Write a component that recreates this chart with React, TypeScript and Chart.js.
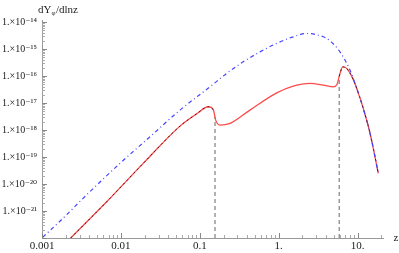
import React, { useEffect, useRef } from "react";
import { Chart, registerables } from "chart.js";

Chart.register(...registerables);

// Blue dash-dot curve (envelope)
const blueZ = [0.00102, 0.00166, 0.00405, 0.00975, 0.0234, 0.0561, 0.1345, 0.219, 0.356, 0.579, 0.944, 1.53, 2.26, 3.68, 4.47, 5.98, 8.01, 9.75, 11.8, 14.4, 18.3];
const blueY = [1.07e-22, 4.0e-22, 5.2e-21, 5.85e-20, 5.65e-19, 5.5e-18, 4.0e-17, 1.26e-16, 3.4e-16, 7.9e-16, 1.63e-15, 2.86e-15, 3.8e-15, 2.86e-15, 2.03e-15, 7.9e-16, 1.67e-16, 3.5e-17, 6.4e-18, 7.5e-19, 2.5e-20];

// Red solid curve
const redZ = [0.00231, 0.0066, 0.0192, 0.0561, 0.0914, 0.128, 0.148, 0.159, 0.18, 0.242, 0.432, 0.944, 1.53, 2.49, 3.68, 4.92, 5.5, 5.86, 6.47, 7.28, 8.83, 9.75, 11.8, 14.4, 18.3];
const redY = [1e-22, 2.2e-21, 5.85e-20, 1.4e-18, 4.0e-18, 7.3e-18, 5.85e-18, 2.34e-18, 1.53e-18, 1.77e-18, 5.5e-18, 2.4e-17, 4.27e-17, 5.37e-17, 4.65e-17, 4.0e-17, 5.0e-17, 1.0e-16, 2.2e-16, 1.93e-16, 7.4e-17, 3.5e-17, 6.4e-18, 7.5e-19, 2.5e-20];

// Black dashed overlay segments (index ranges into red curve)
const blackSegA = [0, 7];
const blackSegB = [17, 25];

// Vertical dashed marker lines
const markerZ = [0.156, 5.86];
const markerTop = [3.1e-18, 1.0e-16];

// Axes
const xMin = 0.001;
const xMax = 21;
const yMin = 1e-22;
const yMax = 1.2e-14;
const xTickVals = [0.001, 0.01, 0.1, 1, 10];
const xTickLabels = ["0.001", "0.01", "0.1", "1.", "10."];
const yTickVals = [1e-21, 1e-20, 1e-19, 1e-18, 1e-17, 1e-16, 1e-15, 1e-14];
const yTickLabels = ["1.×10⁻²¹", "1.×10⁻²⁰", "1.×10⁻¹⁹", "1.×10⁻¹⁸", "1.×10⁻¹⁷", "1.×10⁻¹⁶", "1.×10⁻¹⁵", "1.×10⁻¹⁴"];

const FONT = '"Liberation Serif", "DejaVu Serif", serif';

const pts = (zs: number[], ys: number[]) => zs.map((z, i) => ({ x: z, y: ys[i] }));

const overlayPlugin = {
  id: "overlay",
  afterDraw(chart: any) {
    const { ctx, chartArea, scales } = chart;
    const xs = scales.x;
    const ys = scales.y;
    ctx.save();
    ctx.lineWidth = 1;
    // x ticks (inward, upward)
    for (let e = -3; e <= 1; e++) {
      for (let k = 1; k <= 9; k++) {
        const v = k * Math.pow(10, e);
        if (v < xMin * 0.999 || v > xMax) continue;
        const px = Math.round(xs.getPixelForValue(v)) + 0.5;
        const len = k === 1 ? 5 : 3;
        ctx.strokeStyle = k === 1 ? "#888" : "#aaa";
        ctx.beginPath();
        ctx.moveTo(px, chartArea.bottom);
        ctx.lineTo(px, chartArea.bottom - len);
        ctx.stroke();
      }
    }
    // y ticks (inward, rightward)
    for (let e = -22; e <= -14; e++) {
      for (let k = 1; k <= 9; k++) {
        const v = k * Math.pow(10, e);
        if (v < yMin * 0.999 || v > yMax) continue;
        const py = Math.round(ys.getPixelForValue(v)) + 0.5;
        const len = k === 1 ? 5 : 3;
        ctx.strokeStyle = k === 1 ? "#888" : "#aaa";
        ctx.beginPath();
        ctx.moveTo(chartArea.left, py);
        ctx.lineTo(chartArea.left + len, py);
        ctx.stroke();
      }
    }
    // axis labels
    ctx.fillStyle = "#222";
    ctx.font = `11px ${FONT}`;
    ctx.textAlign = "center";
    ctx.textBaseline = "middle";
    ctx.fillText("z", 396, chartArea.bottom);
    ctx.textAlign = "left";
    ctx.textBaseline = "alphabetic";
    let x = 38;
    const base = 13;
    ctx.fillText("dY", x, base);
    x += ctx.measureText("dY").width;
    ctx.font = `7px ${FONT}`;
    ctx.fillText("φ", x, base + 2);
    x += ctx.measureText("φ").width + 0.5;
    ctx.font = `11px ${FONT}`;
    ctx.fillText("/dlnz", x, base);
    ctx.restore();
  },
};

export default function App() {
  const ref = useRef<HTMLCanvasElement | null>(null);
  useEffect(() => {
    document.body.style.margin = "0";
    if (!ref.current) return;
    const black = "rgba(40,0,0,0.8)";
    const datasets: any[] = [
      {
        data: pts(blueZ, blueY),
        borderColor: "rgb(70,70,255)",
        borderWidth: 1.2,
        borderDash: [4, 3, 1, 3],
        cubicInterpolationMode: "monotone",
        order: 0,
      },
      {
        data: pts(redZ.slice(blackSegA[0], blackSegA[1]), redY.slice(blackSegA[0], blackSegA[1])),
        borderColor: black,
        borderWidth: 1,
        borderDash: [2, 3],
        cubicInterpolationMode: "monotone",
        order: 1,
      },
      {
        data: pts(redZ.slice(blackSegB[0], blackSegB[1]), redY.slice(blackSegB[0], blackSegB[1])),
        borderColor: black,
        borderWidth: 1,
        borderDash: [2, 3],
        cubicInterpolationMode: "monotone",
        order: 1,
      },
      {
        data: pts(redZ, redY),
        borderColor: "rgb(255,75,75)",
        borderWidth: 1.3,
        cubicInterpolationMode: "monotone",
        order: 2,
      },
      ...markerZ.map((z, i) => ({
        data: [
          { x: z, y: yMin },
          { x: z, y: markerTop[i] },
        ],
        borderColor: "#999",
        borderWidth: 1.5,
        borderDash: [4, 3],
        order: 3,
      })),
    ];
    const chart = new Chart(ref.current, {
      type: "line",
      data: { datasets },
      options: {
        responsive: false,
        animation: false,
        devicePixelRatio: 1,
        layout: { padding: { left: 0, right: 16, top: 20, bottom: 0 } },
        plugins: { legend: { display: false }, tooltip: { enabled: false } },
        elements: { point: { radius: 0 }, line: { fill: false } },
        scales: {
          x: {
            type: "logarithmic",
            min: xMin,
            max: xMax,
            grid: { display: false, drawTicks: false },
            border: { display: true, color: "#999", width: 1 },
            ticks: {
              autoSkip: false,
              maxRotation: 0,
              padding: 2,
              color: "#222",
              font: { family: FONT, size: 11 },
              callback: (_v: any, i: number) => xTickLabels[i],
            },
            afterBuildTicks: (s: any) => {
              s.ticks = xTickVals.map((v) => ({ value: v }));
            },
            afterFit: (s: any) => {
              s.height = 15;
            },
          },
          y: {
            type: "logarithmic",
            min: yMin,
            max: yMax,
            grid: { display: false, drawTicks: false },
            border: { display: true, color: "#999", width: 1 },
            ticks: {
              autoSkip: false,
              padding: 5,
              color: "#222",
              font: { family: FONT, size: 10 },
              callback: (_v: any, i: number) => yTickLabels[i],
            },
            afterBuildTicks: (s: any) => {
              s.ticks = yTickVals.map((v) => ({ value: v }));
            },
            afterFit: (s: any) => {
              s.width = 42;
            },
          },
        },
      },
      plugins: [overlayPlugin],
    } as any);
    return () => chart.destroy();
  }, []);
  return (
    <canvas
      ref={ref}
      width={399}
      height={253}
      style={{ display: "block", width: 399, height: 253 }}
    />
  );
}
